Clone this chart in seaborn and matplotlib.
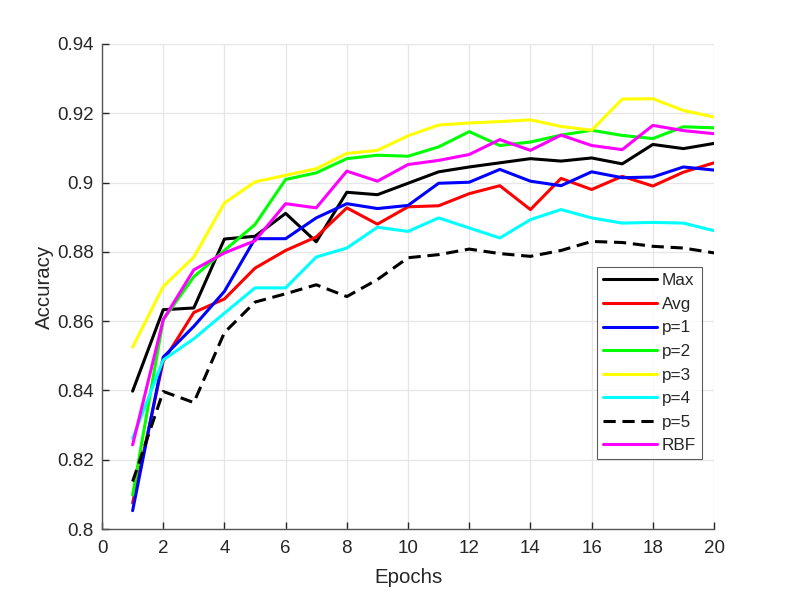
import seaborn as sns
import pandas as pd
import numpy as np
import matplotlib.pyplot as plt

epochs = list(range(1, 21))

acc_max = [0.8398, 0.8633, 0.8638, 0.8837, 0.8845, 0.8911, 0.8829, 0.8972, 0.8965, 0.8998,
           0.9031, 0.9045, 0.9057, 0.9069, 0.9062, 0.9071, 0.9054, 0.9110, 0.9098, 0.9113]
acc_avg = [0.8075, 0.8484, 0.8625, 0.8664, 0.8753, 0.8804, 0.8843, 0.8927, 0.8880, 0.8930,
           0.8933, 0.8968, 0.8991, 0.8922, 0.9012, 0.8980, 0.9018, 0.8990, 0.9030, 0.9057]
acc_p1 = [0.8053, 0.8496, 0.8585, 0.8686, 0.8838, 0.8838, 0.8898, 0.8939, 0.8925, 0.8934,
          0.8998, 0.9001, 0.9038, 0.9004, 0.8991, 0.9031, 0.9014, 0.9016, 0.9045, 0.9036]
acc_p2 = [0.8098, 0.8604, 0.8728, 0.8804, 0.8879, 0.9009, 0.9028, 0.9069, 0.9079, 0.9076,
          0.9103, 0.9147, 0.9107, 0.9117, 0.9137, 0.9151, 0.9136, 0.9127, 0.9161, 0.9158]
acc_p3 = [0.8525, 0.8700, 0.8785, 0.8941, 0.9002, 0.9021, 0.9040, 0.9084, 0.9093, 0.9135,
          0.9166, 0.9172, 0.9176, 0.9181, 0.9162, 0.9151, 0.9241, 0.9242, 0.9208, 0.9189]
acc_p4 = [0.8262, 0.8488, 0.8549, 0.8623, 0.8696, 0.8696, 0.8785, 0.8811, 0.8871, 0.8859,
          0.8898, 0.8869, 0.8840, 0.8893, 0.8922, 0.8898, 0.8883, 0.8885, 0.8883, 0.8861]
acc_p5 = [0.8137, 0.8397, 0.8365, 0.8567, 0.8655, 0.8679, 0.8705, 0.8671, 0.8720, 0.8783,
          0.8792, 0.8808, 0.8795, 0.8787, 0.8804, 0.8830, 0.8827, 0.8816, 0.8811, 0.8797]
acc_rbf = [0.8243, 0.8604, 0.8748, 0.8797, 0.8832, 0.8939, 0.8927, 0.9033, 0.9004, 0.9052,
           0.9064, 0.9081, 0.9124, 0.9093, 0.9137, 0.9107, 0.9095, 0.9165, 0.9150, 0.9141]

names = ['Max', 'Avg', 'p=1', 'p=2', 'p=3', 'p=4', 'p=5', 'RBF']
series = [acc_max, acc_avg, acc_p1, acc_p2, acc_p3, acc_p4, acc_p5, acc_rbf]
colors = ['black', 'red', 'blue', '#00ff00', '#ffff00', 'cyan', 'black', 'magenta']

df = pd.DataFrame({n: s for n, s in zip(names, series)})
df['Epochs'] = epochs
df = df.melt(id_vars='Epochs', var_name='Model', value_name='Accuracy')

sns.set_style('white')
plt.rcParams['font.family'] = ['Liberation Sans', 'DejaVu Sans']

fig = plt.figure(figsize=(7.89, 5.92), dpi=100)
ax = fig.add_axes([0.1293, 0.1064, 0.7757, 0.8193])

sns.lineplot(data=df, x='Epochs', y='Accuracy', hue='Model', style='Model',
             hue_order=names, style_order=names,
             palette=dict(zip(names, colors)),
             dashes={n: ((4, 2.2) if n == 'p=5' else '') for n in names},
             linewidth=2.2, ax=ax)

ax.set_xlim(0, 20)
ax.set_ylim(0.8, 0.94)
ax.set_xticks(np.arange(0, 21, 2))
ax.set_yticks(np.arange(0.8, 0.9401, 0.02))
ax.set_yticklabels(['0.8', '0.82', '0.84', '0.86', '0.88', '0.9', '0.92', '0.94'])
ax.grid(True, color='#e6e6e6', linewidth=0.9)
ax.set_axisbelow(True)
for s in ['top', 'right']:
    ax.spines[s].set_visible(False)
for s in ['left', 'bottom']:
    ax.spines[s].set_color('#555555')
    ax.spines[s].set_linewidth(1.0)
ax.tick_params(direction='in', length=5, width=1, colors='#262626', labelsize=13.5,
               left=True, bottom=True)
ax.tick_params(axis='x', pad=8)
ax.tick_params(axis='y', pad=6)
ax.set_xlabel('Epochs', fontsize=14.7, color='#262626', labelpad=8)
ax.set_ylabel('Accuracy', fontsize=14.7, color='#262626', labelpad=2.5)

leg = ax.legend(loc='lower right', bbox_to_anchor=(0.980, 0.144), borderaxespad=0,
                fontsize=12.3, frameon=True, fancybox=False, handlelength=3.15,
                handletextpad=0.3, borderpad=0.35, labelspacing=0.5)
leg.get_frame().set_edgecolor('#333333')
leg.get_frame().set_linewidth(0.8)
for line in leg.get_lines():
    line.set_linewidth(2.2)

fig.savefig('out.png', dpi=100)
